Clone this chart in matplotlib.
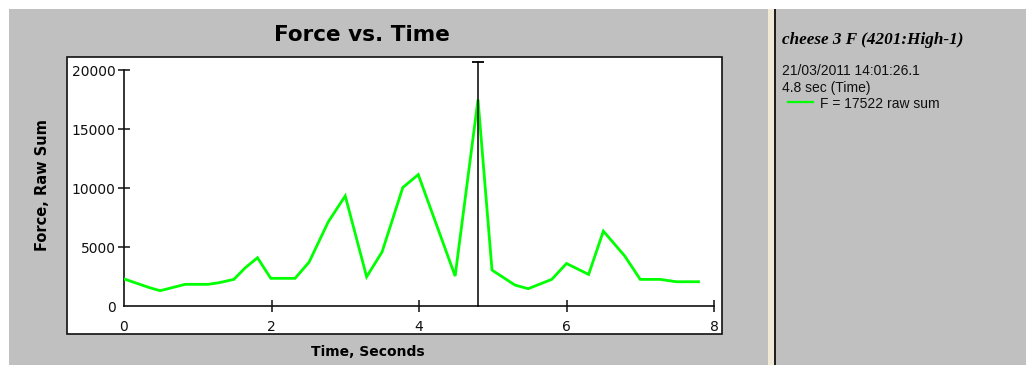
import matplotlib
matplotlib.use('Agg')
import matplotlib.pyplot as plt
from matplotlib.patches import Rectangle
from matplotlib.transforms import blended_transform_factory

W, H = 1026, 365  # canvas size, pixels

# Force samples (time in seconds, force as raw sum)
time_s = [0, 0.35, 0.49, 0.83, 1.14, 1.29, 1.49, 1.64, 1.81, 1.99, 2.32, 2.51, 2.77,
          3.0, 3.29, 3.5, 3.78, 3.99, 4.49, 4.8, 4.99, 5.3, 5.48, 5.8, 6.0, 6.3,
          6.5, 6.79, 7.0, 7.27, 7.49, 7.79]
force = [2300, 1550, 1300, 1840, 1840, 1980, 2260, 3220, 4100, 2350, 2350, 3730, 7150,
         9350, 2480, 4600, 10060, 11160, 2540, 17522, 3050, 1780, 1470, 2260, 3610, 2680,
         6360, 4240, 2260, 2260, 2060, 2060]

x_ticks = [0, 2, 4, 6, 8]
y_ticks = [0, 5000, 10000, 15000, 20000]

cursor_time = 4.8
cursor_value = 17522
series_name = 'cheese 3 F (4201:High-1)'
stamp = '21/03/2011 14:01:26.1'

GRAY = '#c0c0c0'
GREEN = '#00ff00'


def px_box(x0, y0, x1, y1):
    """Pixel box (top-left origin) -> figure fraction rect"""
    return [x0 / W, (H - y1) / H, (x1 - x0) / W, (y1 - y0) / H]


def px(x, y):
    return x / W, (H - y) / H


fig = plt.figure(figsize=(W / 100, H / 100), dpi=100, facecolor='white')

# Window panels
for (x0, y0, x1, y1, fc) in [(9, 9, 768, H, GRAY),
                             (768, 9, 774, H, '#efe9d6'),
                             (774, 9, 776, H, '#202020'),
                             (776, 9, W, H, GRAY)]:
    l, b, w, h = px_box(x0, y0, x1, y1)
    fig.patches.append(Rectangle((l, b), w, h, transform=fig.transFigure,
                                 fc=fc, ec='none', zorder=0))

# White plot frame
l, b, w, h = px_box(67, 57, 722, 334)
fig.patches.append(Rectangle((l, b), w, h, transform=fig.transFigure,
                             fc='white', ec='#101010', lw=1.2, zorder=1))

ax = fig.add_axes(px_box(124, 70.5, 714, 306))
ax.set_zorder(2)
ax.set_facecolor('none')
ax.set_xlim(0, 8)
ax.set_ylim(0, 20000)

ax.plot(time_s, force, color=GREEN, lw=2, solid_joinstyle='miter', zorder=3)

# Cursor at the selected sample
trans = blended_transform_factory(ax.transData, ax.transAxes)
ax.plot([cursor_time, cursor_time], [0, 1.037], color='black', lw=1.1,
        transform=trans, clip_on=False, zorder=4)
ax.plot([cursor_time], [1.037], marker='_', ms=9, mew=1.3, color='black',
        transform=trans, clip_on=False, zorder=4)

for side in ['top', 'right']:
    ax.spines[side].set_visible(False)
for side in ['left', 'bottom']:
    ax.spines[side].set_linewidth(1.2)
    ax.spines[side].set_color('#101010')

ax.set_xticks(x_ticks)
ax.set_yticks(y_ticks)
ax.set_xticklabels([str(t) for t in x_ticks])
ax.set_yticklabels([str(t) for t in y_ticks])
ax.tick_params(axis='both', direction='inout', length=8, width=1.1,
               labelsize=10, colors='#101010')
ax.tick_params(axis='x', pad=6)
ax.tick_params(axis='y', pad=2)
ax.xaxis.get_major_ticks()[0].tick1line.set_visible(False)
ax.yaxis.get_major_ticks()[0].tick1line.set_visible(False)

fig.text(*px(362, 35), 'Force vs. Time', ha='center', va='center',
         fontsize=15.5, fontweight='bold')
fig.text(*px(368, 352), 'Time, Seconds', ha='center', va='center',
         fontsize=10, fontweight='bold')
fig.text(*px(43, 185), 'Force, Raw Sum', ha='center', va='center',
         rotation=90, fontsize=10.5, fontweight='bold')

# Readout panel
fig.text(*px(782, 40), series_name, ha='left', va='center', fontsize=12.3,
         family='Liberation Serif', fontweight='bold', style='italic')
fig.text(*px(782, 71), stamp, ha='left', va='center', fontsize=10,
         family='Liberation Sans', color='#101010')
fig.text(*px(782, 88), '%g sec (Time)' % cursor_time, ha='left', va='center',
         fontsize=10, family='Liberation Sans', color='#101010')
x0, y0 = px(788, 102)
x1, _ = px(813, 102)
fig.add_artist(plt.Line2D([x0, x1], [y0, y0], color=GREEN, lw=1.6,
                          transform=fig.transFigure))
fig.text(*px(820, 104), 'F = %d raw sum' % cursor_value, ha='left', va='center',
         fontsize=10, family='Liberation Sans', color='#101010')

fig.savefig('out.png', dpi=100, facecolor='white')
